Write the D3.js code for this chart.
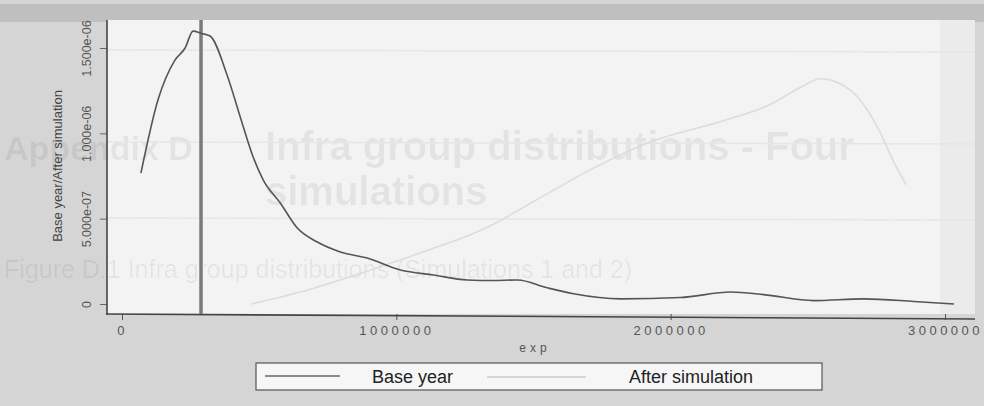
<!DOCTYPE html>
<html>
<head>
<meta charset="utf-8">
<script src="https://cdn.jsdelivr.net/npm/d3@7"></script>
<style>
body { margin:0; background:#d6d6d6; }
svg { display:block; font-family:"Liberation Sans", Arial, sans-serif; }
</style>
</head>
<body>
<svg id="chart" width="984" height="406"></svg>
<script>
// density estimates
var baseX = [69000,131000,193000,230000,259000,290000,321000,383000,431000,478000,515000,577000,639000,712000,796000,894000,1015000,1135000,1259000,1350000,1442000,1550000,1646000,1818000,2036000,2219000,2339000,2522000,2704000,2887000,3033000];
var baseY = [0.767e-6,1.195e-6,1.429e-6,1.50e-6,1.599e-6,1.585e-6,1.570e-6,1.342e-6,1.096e-6,0.861e-6,0.726e-6,0.592e-6,0.445e-6,0.363e-6,0.305e-6,0.269e-6,0.199e-6,0.170e-6,0.141e-6,0.138e-6,0.141e-6,0.095e-6,0.06e-6,0.03e-6,0.038e-6,0.07e-6,0.055e-6,0.02e-6,0.03e-6,0.015e-6,0.0];
var simX = [471000,650000,832000,1088000,1332000,1500000,1700000,1927000,2182000,2365000,2474000,2547000,2657000,2759000,2814000,2858000];
var simY = [0.0,0.07e-6,0.16e-6,0.30e-6,0.45e-6,0.60e-6,0.78e-6,0.95e-6,1.07e-6,1.17e-6,1.27e-6,1.32e-6,1.25e-6,1.02e-6,0.83e-6,0.70e-6];
var refLine = 288000;

var yTicks = [0,5e-7,1e-6,1.5e-6];
var yTickLabels = ["0","5.000e-07","1.000e-06","1.500e-06"];
var xTicks = [0,1000000,2000000,3000000];
var xTickLabels = ["0","1000000","2000000","3000000"];
var seriesNames = ["Base year","After simulation"];

var svg = d3.select('#chart');
var x = d3.scaleLinear().domain([0,3000000]).range([122,945]);
var y = d3.scaleLinear().domain([0,1.5e-6]).range([304,48]);

// scanned page look
svg.append('rect').attr('x',0).attr('y',0).attr('width',984).attr('height',406).attr('fill','#d5d5d5');
svg.append('rect').attr('x',0).attr('y',4).attr('width',984).attr('height',18).attr('fill','#bfbfbf');
svg.append('rect').attr('x',107).attr('y',20).attr('width',868).attr('height',294).attr('fill','#f3f3f3');
svg.append('rect').attr('x',940).attr('y',20).attr('width',35).attr('height',294).attr('fill','#ebebeb');

// bleed-through from the other side of the page
var bleed = svg.append('g').attr('fill','#000').attr('fill-opacity',0.065).attr('font-weight','bold');
bleed.append('text').attr('x',4).attr('y',160).attr('font-size',34).text('Appendix D');
bleed.append('text').attr('x',265).attr('y',160).attr('font-size',40).text('Infra group distributions - Four');
bleed.append('text').attr('x',265).attr('y',205).attr('font-size',40).text('simulations');
bleed.append('text').attr('x',4).attr('y',278).attr('font-size',25).attr('font-weight','normal').text('Figure D.1 Infra group distributions (Simulations 1 and 2)');
[50,142,218].forEach(function(ly){
    svg.append('line').attr('x1',107).attr('x2',975).attr('y1',ly).attr('y2',ly+2).attr('stroke','#e6e6e6').attr('stroke-width',1.5);
});

// axes
var yAxis = svg.append('g').attr('transform','translate(107,0)')
    .call(d3.axisLeft(y).tickValues(yTicks).tickSize(7).tickFormat(function(d,i){return yTickLabels[i];}));
yAxis.select('.domain').remove();
yAxis.selectAll('line').attr('stroke','#666');
yAxis.selectAll('text').attr('fill','#555').attr('font-size',12.5)
    .attr('text-anchor','middle').attr('x',0).attr('dy',0)
    .attr('transform',function(d){return 'translate(-16,0) rotate(-90)';});

var xAxis = svg.append('g').attr('transform','translate(0,314)')
    .call(d3.axisBottom(x).tickValues(xTicks).tickSize(6).tickFormat(function(d,i){return xTickLabels[i];}));
xAxis.select('.domain').remove();
xAxis.selectAll('line').attr('stroke','#555');
xAxis.selectAll('text').attr('fill','#555').attr('font-size',13).attr('y',12)
    .style('letter-spacing','3.5px');

svg.append('line').attr('x1',107).attr('x2',107).attr('y1',20).attr('y2',315).attr('stroke','#444').attr('stroke-width',1.6);
svg.append('line').attr('x1',106).attr('x2',975).attr('y1',314).attr('y2',319).attr('stroke','#444').attr('stroke-width',1.6);

svg.append('text').attr('transform','translate(62,166) rotate(-90)').attr('text-anchor','middle')
    .attr('font-size',13).attr('fill','#444').text('Base year/After simulation');
svg.append('text').attr('x',535).attr('y',352).attr('text-anchor','middle').attr('font-size',12)
    .attr('fill','#555').style('letter-spacing','4px').text('exp');

// reference line
svg.append('line').attr('x1',x(refLine)).attr('x2',x(refLine)).attr('y1',20).attr('y2',314)
    .attr('stroke','#7a7a7a').attr('stroke-width',3.5);

var line = d3.line().curve(d3.curveMonotoneX);
var simPts = simX.map(function(v,i){return [x(v), y(simY[i])];});
var basePts = baseX.map(function(v,i){return [x(v), y(baseY[i])];});
svg.append('path').attr('d',line(simPts)).attr('fill','none').attr('stroke','#dcdcdc').attr('stroke-width',1.6);
svg.append('path').attr('d',line(basePts)).attr('fill','none').attr('stroke','#555').attr('stroke-width',1.6);

// legend
var lg = svg.append('g');
lg.append('rect').attr('x',256).attr('y',363).attr('width',566).attr('height',27)
    .attr('fill','#f6f6f6').attr('stroke','#555').attr('stroke-width',1.2);
lg.append('line').attr('x1',265).attr('x2',340).attr('y1',376).attr('y2',376).attr('stroke','#666').attr('stroke-width',1.5);
lg.append('text').attr('x',372).attr('y',383).attr('font-size',18).attr('fill','#222').text(seriesNames[0]);
lg.append('line').attr('x1',487).attr('x2',586).attr('y1',377).attr('y2',377).attr('stroke','#ccc').attr('stroke-width',1.5);
lg.append('text').attr('x',629).attr('y',383).attr('font-size',18).attr('fill','#222').text(seriesNames[1]);
</script>
</body>
</html>
